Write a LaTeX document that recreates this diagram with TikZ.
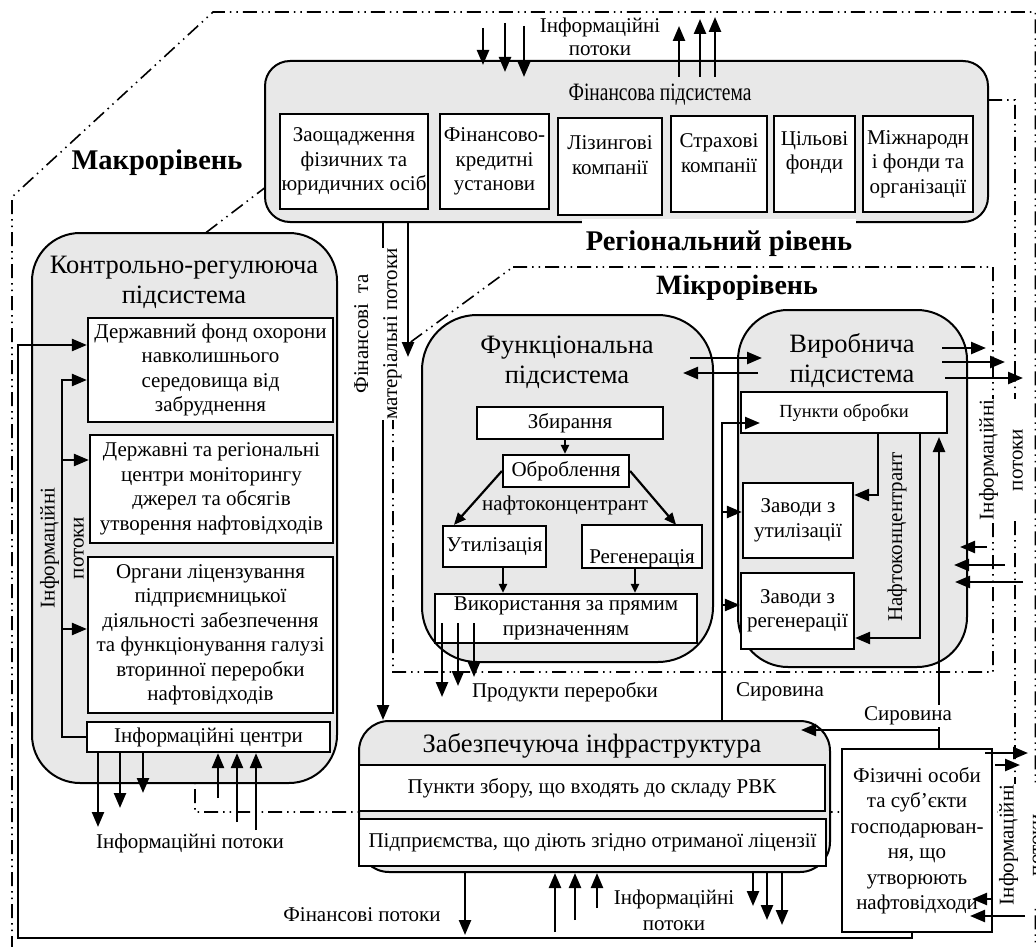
\documentclass[tikz,border=0pt]{standalone}
\usepackage{fontspec}
\usepackage{graphicx}
\setmainfont{Liberation Serif}
\usetikzlibrary{arrows.meta,fit}
\definecolor{boxgray}{RGB}{232,232,232}
\newcommand\dgBody{\fontsize{21}{24.5}\selectfont}
\newcommand\dgTitle{\fontsize{26.5}{30}\selectfont}
\newcommand\dgLevel{\fontsize{28.5}{32}\selectfont\bfseries}
\newcommand\dgRot{\fontsize{21}{29}\selectfont}
\begin{document}
\begin{tikzpicture}[x=1pt,y=-1pt,
  grp/.style={draw, line width=2pt, fill=boxgray, rounded corners=#1, inner sep=0pt},
  wbox/.style={draw, line width=2.2pt, fill=white, inner sep=0pt},
  txt/.style={font=\dgBody, align=center, inner sep=0pt},
  ttl/.style={font=\dgTitle, align=center, inner sep=0pt},
  lvl/.style={font=\dgLevel, inner sep=0pt},
  rot/.style={font=\dgRot, align=center, rotate=90, fill=white, inner sep=1pt},
  arr/.style={line width=2.4pt, -{Triangle[length=15pt,width=12pt]}},
  marr/.style={line width=2.2pt, -{Triangle[length=12pt,width=10pt]}},
  sarr/.style={line width=2pt, -{Triangle[length=9pt,width=8pt]}},
  bound/.style={line width=1.6pt, dash pattern=on 14pt off 5pt on 1.5pt off 5pt on 1.5pt off 5pt},
]
\useasboundingbox (0,0) rectangle (1036,947);

% ---------- level boundaries ----------
\draw[bound] (12,950) -- (12,197) -- (213,12) -- (1035.5,12) -- (1035.5,950);
\draw[bound] (380,100) -- (1015,100) -- (1015,812) -- (195,812) -- (195,241) -- cycle;
\draw[bound] (513,267) -- (993,267) -- (993,672) -- (393,672) -- (393,355) -- cycle;

% ---------- financial subsystem ----------
\node[grp=25pt, fit={(265,61) (988,222)}] (fin) {};
\node[ttl, font=\fontsize{25}{28}\selectfont] (finT) at (660,95) {\scalebox{0.78}[1]{Фінансова підсистема}};
\node[wbox, fit={(280,114) (428,209)}] (f1) {};
\node[txt] (f1t) at (f1.center) {Заощадження\\фізичних та\\юридичних осіб};
\node[wbox, fit={(440,114) (549,209)}] (f2) {};
\node[txt] (f2t) at (f2.center) {Фінансово-\\кредитні\\установи};
\node[wbox, fit={(558,118) (662,215)}] (f3) {};
\node[txt] (f3t) at (610,155) {Лізингові\\компанії};
\node[wbox, fit={(671,116) (767,212)}] (f4) {};
\node[txt] (f4t) at (719,153) {Страхові\\компанії};
\node[wbox, fit={(774,116) (855,212)}] (f5) {};
\node[txt] (f5t) at (814.5,153) {Цільові\\фонди};
\node[wbox, fit={(863,116) (973,212)}] (f6) {};
\node[txt] (f6t) at (f6.center) {Міжнародн\\і фонди та\\організації};

% ---------- control and regulation subsystem ----------
\node[grp=48pt, fit={(32,233) (337,783)}] (kr) {};
\node[ttl] (krT) at (184,282) {Контрольно-регулююча\\підсистема};
\node[wbox, fit={(88,318) (333,422)}] (k1) {};
\node[txt] (k1t) at (k1.center) {Державний фонд охорони\\навколишнього\\середовища від\\забруднення};
\node[wbox, fit={(90,435) (333,543)}] (k2) {};
\node[txt] (k2t) at (k2.center) {Державні та регіональні\\центри моніторингу\\джерел та обсягів\\утворення нафтовідходів};
\node[wbox, fit={(88,557) (333,713)}] (k3) {};
\node[txt] (k3t) at (k3.center) {Органи ліцензування\\підприємницької\\діяльності забезпечення\\та функціонування галузі\\вторинної переробки\\нафтовідходів};
\node[wbox, fit={(87,722) (330,752)}] (k4) {};
\node[txt] (k4t) at (k4.center) {Інформаційні центри};

% ---------- functional subsystem ----------
\node[grp=55pt, fit={(422,315) (713,662)}] (fn) {};
\node[ttl] (fnT) at (567,362) {Функціональна\\підсистема};
\node[wbox, fit={(477,407) (663,439)}] (zb) {};
\node[txt] (zbt) at (zb.center) {Збирання};
\node[wbox, fit={(503,455) (629,487)}] (ob) {};
\node[txt] (obt) at (ob.center) {Оброблення};
\node[txt] (nk) at (565,505) {нафтоконцентрант};
\node[wbox, fit={(443,526) (546,567)}] (ut) {};
\node[txt] (utt) at (ut.center) {Утилізація};
\node[wbox, draw=none, fit={(583,526) (701,567)}] (rg) {};
\begin{scope}
  \clip (rg.south west) rectangle (rg.north east);
  \node[txt, anchor=base] (rgt) at (642,563.5) {Регенерація};
\end{scope}
\draw[line width=2.2pt] (rg.south west) rectangle (rg.north east);
\node[wbox, fit={(435,594) (697,643)}] (vk) {};
\node[txt] (vkt) at (vk.center) {Використання за прямим\\призначенням};

% ---------- production subsystem ----------
\node[grp=50pt, fit={(738,310) (967,667)}] (vr) {};
\node[ttl] (vrT) at (852,361) {Виробнича\\підсистема};
\node[wbox, fit={(741,392) (947,433)}] (po) {};
\node[txt, font=\fontsize{18.5}{21}\selectfont] (pot) at (po.center) {Пункти обробки};
\node[wbox, fit={(743,483) (853,558)}] (zu) {};
\node[txt] (zut) at (zu.center) {Заводи з\\утилізації};
\node[wbox, fit={(741,573) (854,649)}] (zr) {};
\node[txt] (zrt) at (zr.center) {Заводи з\\регенерації};
\node[rot, fill=none] (nkv) at (897,537) {Нафтоконцентрант};

% ---------- supporting infrastructure ----------
\node[grp=30pt, fit={(359,721) (830,872)}] (zi) {};
\node[ttl] (ziT) at (592,746) {Забезпечуюча інфраструктура};
\node[wbox, fit={(359,765) (825,811)}] (pz) {};
\node[txt] (pzt) at (pz.center) {Пункти збору, що входять до складу РВК};
\node[wbox, fit={(359,819) (826,866)}] (pl) {};
\node[txt] (plt) at (pl.center) {Підприємства, що діють згідно отриманої ліцензії};

% ---------- waste producers ----------
\node[wbox, fit={(842,749) (992,932)}] (fz) {};
\node[txt, font=\fontsize{21}{25.5}\selectfont] (fzt) at (fz.center) {Фізичні особи\\та суб’єкти\\господарюван-\\ня, що\\утворюють\\нафтовідходи};

% ---------- lines partly hidden by labels ----------
\draw[arr] (fin.south -| 383,0) -- (zi.north -| 383,0);
\draw[arr] (fz.north -| 939,0) -- (939,437);

% ---------- labels ----------
\node[lvl] (macro) at (157,163) {Макрорівень};
\node[lvl, fill=white, anchor=base, text height=31pt, text depth=7pt, inner xsep=4pt] (regl) at (719,250) {Регіональний рівень};
\node[lvl, font=\fontsize{28}{32}\selectfont\bfseries] (micro) at (737,288) {Мікрорівень};
\node[txt, fill=white, inner xsep=8pt, inner ysep=2pt, font=\fontsize{21}{22.5}\selectfont] (topinfo) at (600,37) {Інформаційні\\потоки};
\node[rot] (fmp) at (378,334) {Фінансові\ \ та\\матеріальні потоки};
\node[rot, fill=none] (krinfo) at (62,548) {Інформаційні\\потоки};
\node[rot] (vrinfo) at (1001,460) {Інформаційні\\потоки};
\node[rot] (fzinfo) at (1021,845) {Інформаційні\\потоки};
\node[txt] (krflow) at (190,843) {Інформаційні потоки};
\node[txt] (prod) at (565,692) {Продукти переробки};
\node[txt] (syr1) at (780,692) {Сировина};
\node[txt, fill=white, inner sep=2pt] (syr2) at (908,716) {Сировина};
\node[txt] (finflow) at (362,915) {Фінансові потоки};
\node[txt, font=\fontsize{21}{26}\selectfont] (ziinfo) at (674,910) {Інформаційні\\потоки};

% ---------- flows of the financial subsystem ----------
\foreach \x/\a/\b in {483/28/65, 505/23/72, 524/26/77}
  \draw[arr] (\x,\a) -- (\x,\b);
\foreach \x/\b in {679/26, 700/19, 715/17}
  \draw[arr] (\x,77) -- (\x,\b);
\draw[arr] (fin.south -| 408,0) -- (408,357);

% ---------- flows of the control subsystem ----------
\draw[arr] (k4.west) -- (62,737) -- (62,380) -- (k1.west |- 0,380);
\draw[arr] (62,460) -- (k2.west |- 0,460);
\draw[arr] (62,629) -- (k3.west |- 0,629);
\draw[arr] (fz.south -| 912,0) -- (912,938) -- (18,938) -- (18,345) -- (k1.west |- 0,345);
\foreach \x/\b in {98/827, 120/808, 143/793}
  \draw[arr] (k4.south -| \x,0) -- (\x,\b);
\foreach \x/\a in {218/798, 237/822, 256/830}
  \draw[arr] (\x,\a) -- (k4.south -| \x,0);

% ---------- flows of the functional subsystem ----------
\draw[sarr] (zb.south -| 565,0) -- (ob.north -| 565,0);
\draw[marr] (ob.west) -- ([xshift=12pt]ut.north west);
\draw[marr] (ob.east) -- ([xshift=-26pt]rg.north east);
\draw[sarr] (ut.south -| 503,0) -- (vk.north -| 503,0);
\draw[sarr] (rg.south -| 635,0) -- (vk.north -| 635,0);
\foreach \x/\b in {442/697, 458/686, 474/677}
  \draw[arr] (\x,623) -- (\x,\b);

% ---------- exchange between functional and production subsystems ----------
\draw[arr] (690,358) -- (762,358);
\draw[arr] (758,373) -- (683,373);

% ---------- flows of the production subsystem ----------
\foreach \y/\a/\b in {348/942/986, 362/942/1005, 378/945/1023}
  \draw[arr] (\a,\y) -- (\b,\y);
\foreach \y/\a/\b in {547/987/960, 565/1005/954, 582/1023/955}
  \draw[arr] (\a,\y) -- (\b,\y);
\draw[arr] (po.south -| 878,0) -- (878,495) -- (zu.east |- 0,495);
\draw[arr] (po.south -| 920,0) -- (920,638) -- (zr.east |- 0,638);
\draw[arr] (zi.north -| 722,0) -- (722,423) -- (760,423);
\draw[arr] (722,512) -- (zu.west |- 0,512);
\draw[arr] (722,605) -- (zr.west |- 0,605);
\draw[arr] (939,730) -- (801,730);

% ---------- flows of the supporting infrastructure ----------
\draw[arr] (zi.south -| 465,0) -- (465,935);
\foreach \x/\a in {555/932, 575/920, 597/908}
  \draw[arr] (\x,\a) -- (zi.south -| \x,0);
\foreach \x/\b in {753/906, 767/920, 782/925}
  \draw[arr] (zi.south -| \x,0) -- (\x,\b);

% ---------- flows of the waste producers ----------
\draw[arr] (985,753) -- (1028,753);
\draw[arr] (995,765) -- (1020,765);
\draw[arr] (993,899) -- (972,899);
\draw[arr] (1025,916) -- (970,916);
\end{tikzpicture}
\end{document}
